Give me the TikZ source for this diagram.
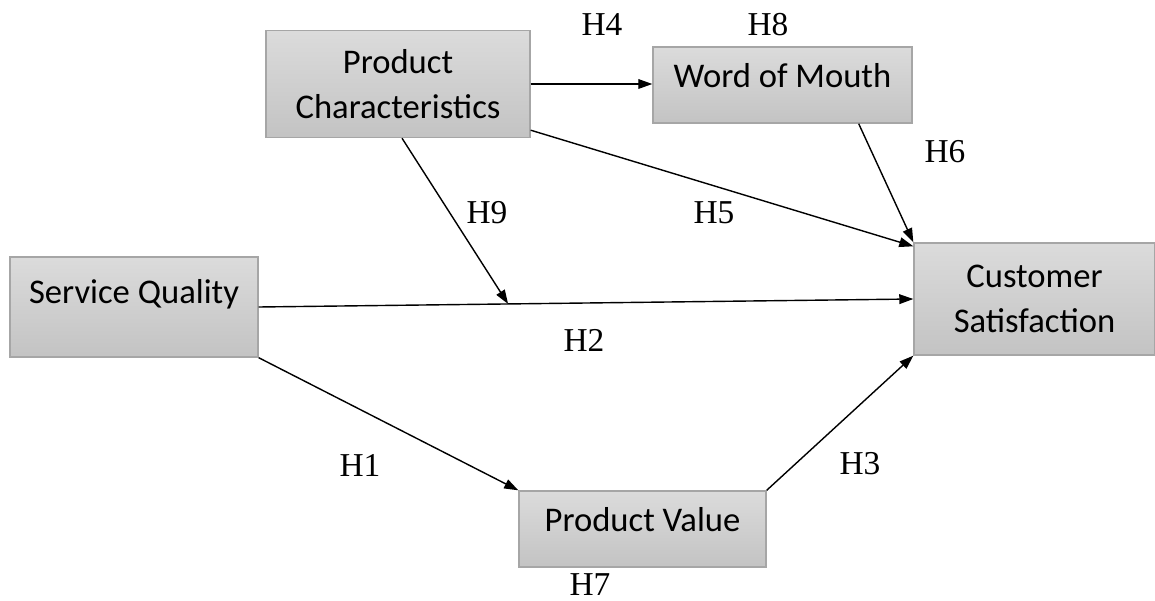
\documentclass[tikz,border=0pt]{standalone}
\usepackage{fontspec}
\setmainfont{Liberation Serif}
\newfontfamily\boxfont{Carlito}
\usetikzlibrary{arrows.meta,calc}

\begin{document}
\begin{tikzpicture}
  [x=0.02cm,y=-0.02cm,
   construct/.style={draw=gray!70,line width=0.8pt,top color=gray!28,bottom color=gray!47,
     font=\boxfont\fontsize{19.7}{26}\selectfont,align=center,inner sep=0pt},
   hyp/.style={font=\fontsize{19}{21}\selectfont,inner sep=0pt},
   path/.style={line width=0.8pt,-{Triangle[length=8pt,width=5.5pt]}}]
  \useasboundingbox (0,0) rectangle (1155,601);

  \node (pc) at (398,84) [construct,minimum width=5.28cm,minimum height=2.14cm] {Product\\Characteristics};
  \node (wom) at (782.5,85) [construct,minimum width=5.18cm,minimum height=1.52cm,text height=13pt,text depth=10.4pt] {Word of Mouth};
  \node (sq) at (134,307) [construct,minimum width=4.96cm,minimum height=2cm,text height=13pt,text depth=17.2pt] {Service Quality};
  \node (cs) at (1034.5,299) [construct,minimum width=4.82cm,minimum height=2.24cm] {Customer\\Satisfaction};
  \node (pv) at (642.5,529) [construct,minimum width=4.94cm,minimum height=1.52cm,text height=13pt,text depth=9.8pt] {Product Value};

  \node (h4) at (602,25) [hyp] {H4};
  \node (h8) at (768,25) [hyp] {H8};
  \node (h6) at (945,152) [hyp] {H6};
  \node (h9) at (487,213) [hyp] {H9};
  \node (h5) at (714,213) [hyp] {H5};
  \node (h2) at (584,340) [hyp] {H2};
  \node (h1) at (360,465) [hyp] {H1};
  \node (h3) at (860,464) [hyp] {H3};
  \node (h7) at (590,585) [hyp] {H7};

  \draw [path] (pc.east) -- (pc.east -| wom.west);
  \draw [path] ($(pc.south east)+(0,-8)$) -- ($(cs.north west)+(0,4)$);
  \draw [path] ($(wom.south east)+(-54,0)$) -- (cs.north west);
  \draw [path] (sq.east) -- coordinate[pos=0.381] (mod) (cs.west);
  \draw [path] ($(pc.south)+(4,0)$) -- (mod);
  \draw [path] (sq.south east) -- (pv.north west);
  \draw [path] (pv.north east) -- (cs.south west);
\end{tikzpicture}
\end{document}
